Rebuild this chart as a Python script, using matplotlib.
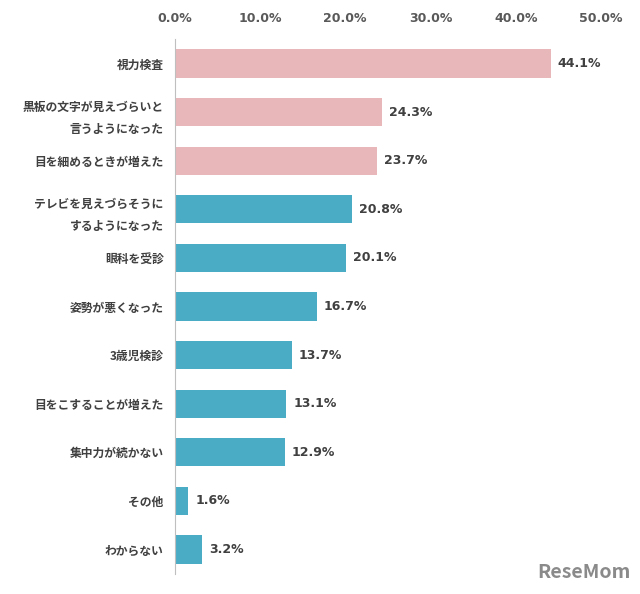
import matplotlib
matplotlib.use("Agg")
import matplotlib.pyplot as plt
plt.rcParams['font.family'] = ['Noto Sans CJK JP', 'DejaVu Sans']

categories = ["視力検査", "黒板の文字が見えづらいと\n言うようになった", "目を細めるときが増えた",
              "テレビを見えづらそうに\nするようになった", "眼科を受診", "姿勢が悪くなった",
              "3歳児検診", "目をこすることが増えた", "集中力が続かない", "その他", "わからない"]
values = [44.1, 24.3, 23.7, 20.8, 20.1, 16.7, 13.7, 13.1, 12.9, 1.6, 3.2]
colors = ["#E8B7BA"] * 3 + ["#4BACC6"] * 8
ticks = [0, 10, 20, 30, 40, 50]

fig = plt.figure(figsize=(6.4, 5.94), dpi=100)
ax = fig.add_axes([0.273, 0.034, 0.666, 0.900])
y = list(range(len(values)))
ax.barh(y, values, height=0.58, color=colors)
for yi, v in zip(y, values):
    ax.text(v + 0.8, yi, f"{v:.1f}%", va="center", ha="left", fontsize=9,
            fontweight="bold", color="#404040", family="DejaVu Sans")
ax.set_xlim(0, 50)
ax.set_ylim(len(values) - 0.5, -0.5)
ax.set_yticks(y)
ax.set_yticklabels(categories, fontsize=8.5, fontweight="bold", color="#404040", linespacing=1.9)
ax.set_xticks(ticks)
ax.set_xticklabels([f"{t:.1f}%" for t in ticks], fontsize=9, fontweight="bold",
                   color="#595959", family="DejaVu Sans")
ax.xaxis.tick_top()
ax.tick_params(axis="x", length=0, pad=10)
ax.tick_params(axis="y", length=0, pad=8)
for s in ["top", "right", "bottom"]:
    ax.spines[s].set_visible(False)
ax.spines["left"].set_color("#BFBFBF")
fig.text(0.985, 0.02, "ReseMom", ha="right", va="bottom", fontsize=14,
         fontweight="bold", color="#8a8a8a")
fig.savefig("out.png", dpi=100)
